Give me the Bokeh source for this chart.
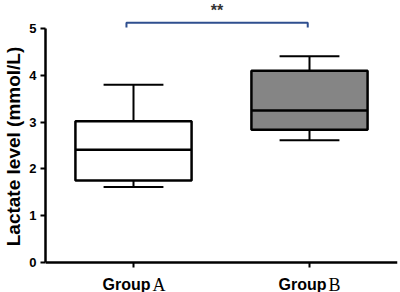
from bokeh.plotting import figure
from bokeh.models import Range1d, FixedTicker, Label, ColumnDataSource
from bokeh.core.properties import value
from bokeh.embed import file_html
from bokeh.resources import INLINE

# ---- data ----
group_words = ["Group", "Group"]
group_letters = ["A", "B"]
positions = [1, 2]
mins = [1.61, 2.61]
q1s = [1.75, 2.84]
medians = [2.41, 3.25]
q3s = [3.02, 4.10]
maxs = [3.80, 4.41]
fills = ["#ffffff", "#858585"]
y_ticks = [0, 1, 2, 3, 4, 5]
sig_from = 0.96
sig_to = 1.99
sig_y = 5.13
sig_text = "**"

BOX_W = 0.66
CAP_W = 0.34
PX_PER_UNIT = 46.68
ZERO_PX = 261.7
FRAME_BOTTOM = 292.0

y_start = -(FRAME_BOTTOM - ZERO_PX) / PX_PER_UNIT
y_end = ZERO_PX / PX_PER_UNIT

p = figure(width=400, height=292, output_backend="svg", toolbar_location=None,
           x_range=Range1d(0.5, 2.5), y_range=Range1d(y_start, y_end),
           min_border_left=45, min_border_right=3, min_border_top=0, min_border_bottom=0)
p.outline_line_color = None
p.xgrid.visible = False
p.ygrid.visible = False
p.background_fill_color = "white"
p.border_fill_color = "white"

src = ColumnDataSource(dict(x=positions, lo=mins, q1=q1s, med=medians, q3=q3s, hi=maxs, fill=fills))
src.data["cl"] = [x - CAP_W / 2 for x in positions]
src.data["cr"] = [x + CAP_W / 2 for x in positions]
src.data["bl"] = [x - BOX_W / 2 for x in positions]
src.data["br"] = [x + BOX_W / 2 for x in positions]

p.segment(x0="x", y0="q3", x1="x", y1="hi", source=src, line_color="black", line_width=2)
p.segment(x0="x", y0="lo", x1="x", y1="q1", source=src, line_color="black", line_width=2)
p.segment(x0="cl", y0="hi", x1="cr", y1="hi", source=src, line_color="black", line_width=2)
p.segment(x0="cl", y0="lo", x1="cr", y1="lo", source=src, line_color="black", line_width=2)
p.quad(left="bl", right="br", bottom="q1", top="q3", source=src, fill_color="fill",
       line_color="black", line_width=2.5)
p.segment(x0="bl", y0="med", x1="br", y1="med", source=src, line_color="black", line_width=2.5)

p.line(x=[sig_from, sig_from, sig_to, sig_to], y=[sig_y - 0.1, sig_y, sig_y, sig_y - 0.1],
       line_color="#2f4f8f", line_width=2)
p.add_layout(Label(x=(sig_from + sig_to) / 2, y=sig_y + 0.26, text=sig_text,
                   text_font="Liberation Sans", text_font_style="bold", text_font_size="16px",
                   text_color="#333333", text_align="center", text_baseline="alphabetic"))

ya = p.yaxis[0]
ya.ticker = FixedTicker(ticks=y_ticks)
ya.bounds = (0, 5)
ya.axis_line_width = 2.5
ya.major_tick_line_width = 2
ya.major_tick_out = 5
ya.major_tick_in = 0
ya.minor_tick_line_color = None
ya.major_label_standoff = 4
ya.major_label_text_font = "Liberation Sans"
ya.major_label_text_font_style = "bold"
ya.major_label_text_font_size = "13px"
ya.major_label_text_color = "black"
ya.axis_label = "Lactate level (mmol/L)"
ya.axis_label_text_font = "Liberation Sans"
ya.axis_label_text_font_style = "bold"
ya.axis_label_text_font_size = "19px"
ya.axis_label_text_color = "black"
ya.axis_label_standoff = 2

xa = p.xaxis[0]
xa.fixed_location = 0
xa.ticker = FixedTicker(ticks=positions)
xa.bounds = (0.5, 2.5)
xa.axis_line_width = 2.5
xa.major_tick_line_width = 2
xa.major_tick_out = 5
xa.major_tick_in = 0
xa.minor_tick_line_color = None
xa.major_label_overrides = {1: "", 2: ""}
xa.major_label_text_font_size = "1px"
xa.major_label_standoff = 0

# category labels below the axis: bold sans word + serif letter
lab = ColumnDataSource(dict(x=positions, word=group_words, letter=group_letters))
lab.data["y"] = [-(284.0 - ZERO_PX) / PX_PER_UNIT] * len(positions)
p.text(x="x", y="y", text="word", source=lab, x_offset=17, text_align="right",
       text_baseline="alphabetic", text_font=value("Liberation Sans"),
       text_font_style="bold", text_font_size=value("16px"), text_color="black")
p.text(x="x", y="y", text="letter", source=lab, x_offset=19, text_align="left",
       text_baseline="alphabetic", text_font=value("Liberation Serif"),
       text_font_size=value("18px"), text_color="black")

open("out.html", "w").write(file_html(p, INLINE))
